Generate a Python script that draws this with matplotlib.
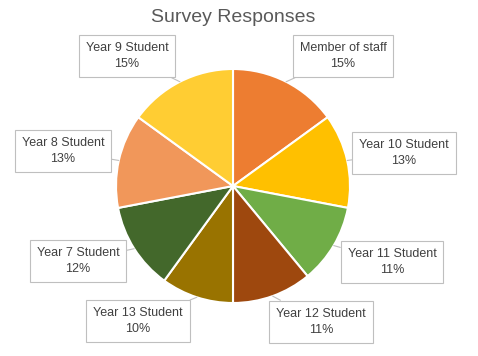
import math
import matplotlib
matplotlib.use("Agg")
import matplotlib.pyplot as plt

# data, clockwise from 12 o'clock
labels = [
    "Member of staff",
    "Year 10 Student",
    "Year 11 Student",
    "Year 12 Student",
    "Year 13 Student",
    "Year 7 Student",
    "Year 8 Student",
    "Year 9 Student",
]
shares = [15, 13, 11, 11, 10, 12, 13, 15]

colors = ["#ED7D31", "#FFC000", "#70AD47", "#9E480E",
          "#997300", "#43682B", "#F1975A", "#FFCD33"]

# label box centres in pixel coords (x right, y down)
label_pos = [(343, 56), (404, 153), (392, 262), (321, 322),
             (138, 321), (78, 261), (63, 151), (127, 56)]

W, H = 478, 356
cx, cy, r = 233, 356 - 186, 117

plt.rcParams["font.family"] = ["Liberation Sans", "DejaVu Sans"]

fig = plt.figure(figsize=(W / 100, H / 100), dpi=100)
ax = fig.add_axes([0, 0, 1, 1])

wedges, _ = ax.pie(shares, colors=colors, startangle=90, counterclock=False,
                   center=(cx, cy), radius=r,
                   wedgeprops=dict(edgecolor="white", linewidth=1.5))

# pie resets the limits, so set them afterwards
ax.set_xlim(0, W)
ax.set_ylim(0, H)
ax.set_aspect("equal")
ax.axis("off")

for w, lab, val, (px, py) in zip(wedges, labels, shares, label_pos):
    mid = math.radians((w.theta1 + w.theta2) / 2)
    ex = cx + r * math.cos(mid)
    ey = cy + r * math.sin(mid)
    ax.annotate(f"{lab}\n{val}%", xy=(ex, ey), xytext=(px, H - py),
                ha="center", va="center", fontsize=9, color="#404040",
                linespacing=1.55,
                bbox=dict(boxstyle="square,pad=0.55", fc="white",
                          ec="#BFBFBF", lw=0.8),
                arrowprops=dict(arrowstyle="-", color="#BFBFBF", lw=0.8,
                                shrinkA=0, shrinkB=0))

ax.text(W / 2 - 6, H - 17, "Survey Responses", ha="center", va="center",
        fontsize=14, color="#595959")

fig.savefig("out.png", dpi=100)
